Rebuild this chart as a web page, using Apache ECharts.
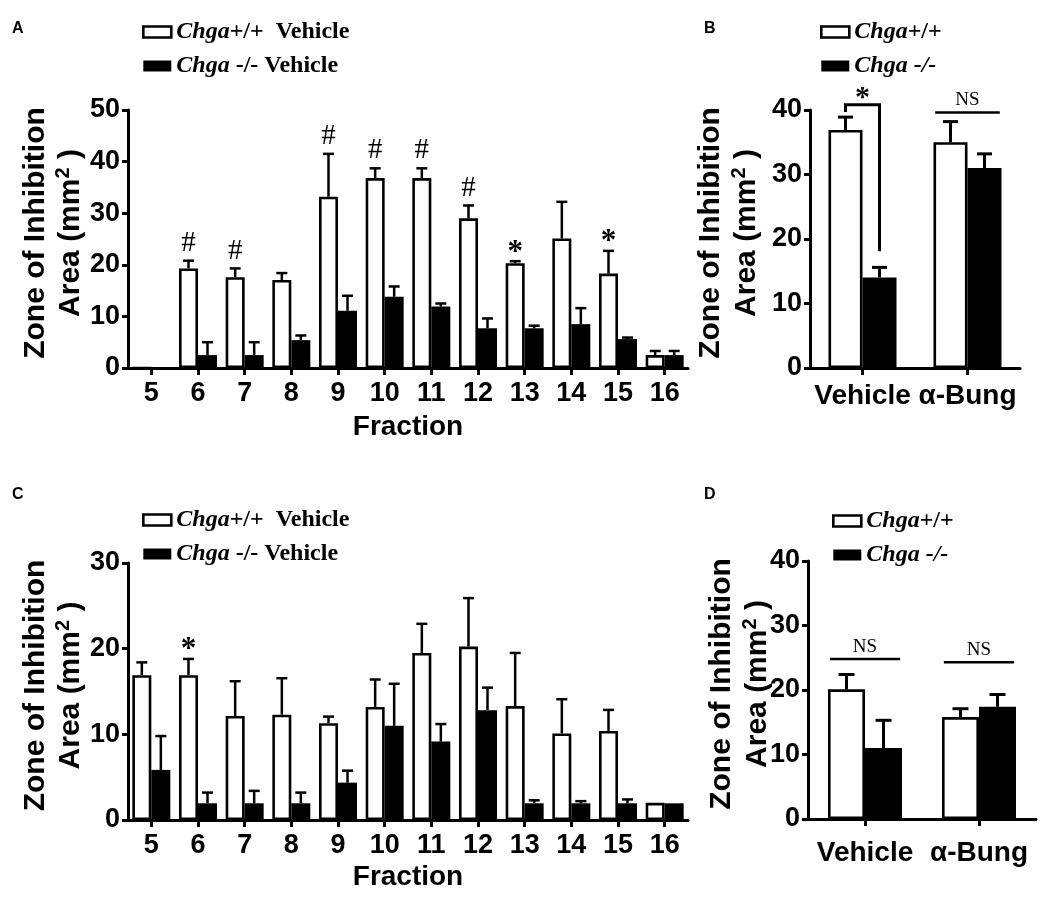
<!DOCTYPE html>
<html>
<head>
<meta charset="utf-8">
<script src="https://cdn.jsdelivr.net/npm/echarts@6/dist/echarts.min.js"></script>
<style>
html,body{margin:0;padding:0;background:#fff;}
#chart{width:1050px;height:903px;}
</style>
</head>
<body>
<div id="chart"></div>
<script>
// ---------------- data ----------------
const fractions = ['5','6','7','8','9','10','11','12','13','14','15','16'];
const treatments = ['Vehicle','\u03b1-Bung'];

// Panel A (fractions, Chga+/+ vs Chga-/-)
const aWtMean = [0, 19.3, 17.6, 17.05, 33.2, 36.8, 36.8, 29.0, 20.3, 25.1, 18.3, 2.5];
const aWtSem  = [0, 1.5, 1.7, 1.35, 8.3, 1.9, 1.9, 2.5, 0.4, 7.1, 4.4, 0.8];
const aKoMean = [0, 2.5, 2.5, 5.4, 11.1, 13.8, 11.9, 7.7, 7.7, 8.5, 5.6, 2.5];
const aKoSem  = [0, 2.5, 2.5, 0.9, 2.9, 2.0, 0.6, 1.9, 0.5, 3.1, 0.3, 0.8];
const aSig    = ['', '#', '#', '', '#', '#', '#', '#', '*', '', '*', ''];

// Panel B
const bWtMean = [36.9, 35.0];
const bWtSem  = [2.0, 3.2];
const bKoMean = [14.05, 31.0];
const bKoSem  = [1.55, 2.2];
const bBracket = [0, 40.8, 39.7, 18.1];   // category, bracket level, left leg end, right leg end
const bBracketText = '*';
const bNS = [[1, 39.6]];                 // category, line level

// Panel C
const cWtMean = [16.9, 16.9, 12.15, 12.3, 11.3, 13.2, 19.5, 20.25, 13.3, 10.1, 10.4, 2.0];
const cWtSem  = [1.5, 1.9, 4.05, 4.25, 0.77, 3.2, 3.4, 5.65, 6.2, 4.0, 2.45, 0];
const cKoMean = [5.85, 1.95, 1.95, 1.95, 4.36, 11.0, 9.15, 12.8, 1.95, 1.95, 1.95, 1.95];
const cKoSem  = [3.95, 1.25, 1.45, 1.25, 1.4, 4.9, 2.05, 2.65, 0.35, 0.25, 0.45, 0];
const cSig    = ['', '*', '', '', '', '', '', '', '', '', '', ''];

// Panel D
const dWtMean = [20.1, 15.8];
const dWtSem  = [2.3, 1.3];
const dKoMean = [11.0, 17.4];
const dKoSem  = [4.3, 1.9];
const dNS = [[0, 24.8], [1, 24.3]];

// y-axis tick settings
const aYMax = 50, bYMax = 40, cYMax = 30, dYMax = 40, yStep = 10;

// legend labels [italic part, rest]
const legAC = [['Chga', '+/+  Vehicle'], ['Chga', ' -/- Vehicle']];
const legBD = [['Chga', '+/+'], ['Chga', ' -/-']];
const panelLetters = ['A', 'B', 'C', 'D'];

// ---------------- helpers ----------------
const SANS = "'Liberation Sans', Arial, sans-serif";
const SERIF = "'Liberation Serif', 'Times New Roman', serif";
const nameAC = legAC.map(p => p[0] + p[1]);
const nameBD = legBD.map(p => p[0] + p[1]);

function xAxis(gi, cats, opt) {
  return Object.assign({
    type: 'category', gridIndex: gi, data: cats,
    axisLine: {lineStyle: {color: '#000', width: 3}},
    axisTick: {show: true, alignWithLabel: true, length: 7, lineStyle: {color: '#000', width: 3}},
    axisLabel: {color: '#000', fontFamily: SANS, fontWeight: 'bold', fontSize: 27, margin: 12, interval: 0},
    splitLine: {show: false}
  }, opt || {});
}
function yAxis(gi, max, gap, lh) {
  return {
    type: 'value', gridIndex: gi, min: 0, max: max, interval: yStep,
    axisLine: {show: true, lineStyle: {color: '#000', width: 3}},
    axisTick: {show: true, length: 6, lineStyle: {color: '#000', width: 3}},
    axisLabel: {color: '#000', fontFamily: SANS, fontWeight: 'bold', fontSize: 27, margin: 8},
    splitLine: {show: false},
    name: '{n|Zone of Inhibition}\n{n|Area (mm}{s|2}{n| )}',
    nameLocation: 'middle', nameRotate: 90, nameGap: gap, nameMoveOverlap: false,
    nameTextStyle: {
      padding: [0, 0, 0, 12],
      rich: {
        n: {fontFamily: SANS, fontWeight: 'bold', fontSize: 30, color: '#000', lineHeight: lh},
        s: {fontFamily: SANS, fontWeight: 'bold', fontSize: 20, color: '#000', lineHeight: lh, verticalAlign: 'top', padding: [0, 0, 12, 0]}
      }
    }
  };
}
function bars(gi, name, data, white, bw) {
  return {
    type: 'bar', name: name, xAxisIndex: gi, yAxisIndex: gi, data: data,
    barWidth: bw, barGap: '0%',
    itemStyle: white ? {color: '#fff', borderColor: '#000', borderWidth: 2.6}
                     : {color: '#000', borderColor: '#000', borderWidth: 0},
    emphasis: {disabled: true}, z: white ? 3 : 2
  };
}
function errBars(gi, mean, sem, side, bw, cap, lw) {
  return {
    type: 'custom', xAxisIndex: gi, yAxisIndex: gi, z: 4, silent: true,
    data: mean.map((m, i) => [i, m, m + sem[i]]),
    renderItem: function (params, api) {
      const i = api.value(0), m = api.value(1), e = api.value(2);
      if (!(e > m)) return {type: 'group', children: []};
      const p0 = api.coord([i, m]), p1 = api.coord([i, e]);
      const x = p0[0] + side * bw / 2;
      const st = {stroke: '#000', lineWidth: lw};
      return {type: 'group', children: [
        {type: 'line', shape: {x1: x, y1: p0[1], x2: x, y2: p1[1]}, style: st},
        {type: 'line', shape: {x1: x - cap / 2, y1: p1[1], x2: x + cap / 2, y2: p1[1]}, style: st}
      ]};
    }
  };
}
function sigMarks(gi, mean, sem, sig, side, bw) {
  return {
    type: 'custom', xAxisIndex: gi, yAxisIndex: gi, z: 5, silent: true,
    data: mean.map((m, i) => [i, m + sem[i]]),
    renderItem: function (params, api) {
      const i = api.value(0);
      const s = sig[i];
      if (!s) return {type: 'group', children: []};
      const p = api.coord([i, api.value(1)]);
      const isStar = s === '*';
      return {type: 'text', x: p[0] + side * bw / 2, y: p[1] - (isStar ? -7 : 3),
        style: {text: s, fill: '#000', align: 'center', verticalAlign: 'bottom',
          font: (isStar ? 'bold 31px ' : 'normal 29px ') + SERIF}};
    }
  };
}
function nsLines(gi, items, bw, lw) {
  return {
    type: 'custom', xAxisIndex: gi, yAxisIndex: gi, z: 5, silent: true,
    data: items,
    renderItem: function (params, api) {
      const p = api.coord([api.value(0), api.value(1)]);
      const half = bw * 0.95;
      return {type: 'group', children: [
        {type: 'line', shape: {x1: p[0] - half, y1: p[1], x2: p[0] + half, y2: p[1]}, style: {stroke: '#000', lineWidth: lw}},
        {type: 'text', x: p[0], y: p[1] - 3, style: {text: 'NS', fill: '#000', align: 'center', verticalAlign: 'bottom', font: 'normal 19px ' + SERIF}}
      ]};
    }
  };
}
function bracket(gi, b, txt, bw, lw) {
  return {
    type: 'custom', xAxisIndex: gi, yAxisIndex: gi, z: 5, silent: true,
    data: [b],
    renderItem: function (params, api) {
      const c = api.value(0);
      const lvl = api.coord([c, api.value(1)]);
      const lEnd = api.coord([c, api.value(2)]);
      const rEnd = api.coord([c, api.value(3)]);
      const xl = lvl[0] - bw / 2, xr = lvl[0] + bw / 2;
      return {type: 'group', children: [
        {type: 'polyline', shape: {points: [[xl, lEnd[1]], [xl, lvl[1]], [xr, lvl[1]], [xr, rEnd[1]]]},
          style: {stroke: '#000', lineWidth: lw, fill: null}},
        {type: 'text', x: lvl[0], y: lvl[1] + 8, style: {text: txt, fill: '#000', align: 'center', verticalAlign: 'bottom', font: 'bold 30px ' + SERIF}}
      ]};
    }
  };
}
function legend(names, parts, left, top, italicRest) {
  return {
    orient: 'vertical', left: left, top: top, padding: 0, itemWidth: 28, itemHeight: 11, itemGap: 10,
    selectedMode: false, icon: 'rect',
    data: [
      {name: names[0], itemStyle: {color: '#fff', borderColor: '#000', borderWidth: 2.6}},
      {name: names[1], itemStyle: {color: '#000', borderColor: '#000', borderWidth: 0}}
    ],
    formatter: function (n) {
      const k = names.indexOf(n);
      return '{i|' + parts[k][0] + '}{' + (italicRest && k === 1 ? 'i' : 'r') + '|' + parts[k][1] + '}';
    },
    textStyle: {
      rich: {
        i: {fontFamily: SERIF, fontStyle: 'italic', fontWeight: 'bold', fontSize: 24, color: '#000', lineHeight: 25},
        r: {fontFamily: SERIF, fontWeight: 'bold', fontSize: 24, color: '#000', lineHeight: 25}
      }
    }
  };
}

// ---------------- option ----------------
const bwAC = 19, bwB = 34, bwD = 37;
const option = {
  backgroundColor: '#fff',
  animation: false,
  grid: [
    {left: 128, top: 110, width: 560, height: 258},
    {left: 810, top: 110, width: 210, height: 258},
    {left: 128, top: 563, width: 560, height: 257},
    {left: 808, top: 561, width: 228, height: 258}
  ],
  xAxis: [
    xAxis(0, fractions, {name: 'Fraction', nameLocation: 'middle', nameGap: 45,
      nameTextStyle: {color: '#000', fontFamily: SANS, fontWeight: 'bold', fontSize: 28}}),
    xAxis(1, treatments, {axisLabel: {color: '#000', fontFamily: SANS, fontWeight: 'bold', fontSize: 28, margin: 14, interval: 0}}),
    xAxis(2, fractions, {name: 'Fraction', nameLocation: 'middle', nameGap: 43,
      nameTextStyle: {color: '#000', fontFamily: SANS, fontWeight: 'bold', fontSize: 28}}),
    xAxis(3, treatments, {axisLabel: {color: '#000', fontFamily: SANS, fontWeight: 'bold', fontSize: 28, margin: 20, interval: 0}})
  ],
  yAxis: [
    yAxis(0, aYMax, 40, 35),
    yAxis(1, bYMax, 45, 36),
    yAxis(2, cYMax, 40, 35),
    yAxis(3, dYMax, 32, 36)
  ],
  legend: [
    legend(nameAC, legAC, 142, 20, false),
    legend(nameBD, legBD, 820, 20, true),
    legend(nameAC, legAC, 142, 508, false),
    legend(nameBD, legBD, 832, 509, true)
  ],
  graphic: [
    {type: 'text', left: 12, top: 21, style: {text: panelLetters[0], font: 'bold 16px ' + SANS, fill: '#000'}},
    {type: 'text', left: 704, top: 21, style: {text: panelLetters[1], font: 'bold 16px ' + SANS, fill: '#000'}},
    {type: 'text', left: 12, top: 487, style: {text: panelLetters[2], font: 'bold 16px ' + SANS, fill: '#000'}},
    {type: 'text', left: 704, top: 487, style: {text: panelLetters[3], font: 'bold 16px ' + SANS, fill: '#000'}}
  ],
  series: [
    // A
    bars(0, nameAC[0], aWtMean, true, bwAC),
    bars(0, nameAC[1], aKoMean, false, bwAC),
    errBars(0, aWtMean, aWtSem, -1, bwAC, 11, 2.5),
    errBars(0, aKoMean, aKoSem, 1, bwAC, 11, 2.5),
    sigMarks(0, aWtMean, aWtSem, aSig, -1, bwAC),
    // B
    bars(1, nameBD[0], bWtMean, true, bwB),
    bars(1, nameBD[1], bKoMean, false, bwB),
    errBars(1, bWtMean, bWtSem, -1, bwB, 15, 3),
    errBars(1, bKoMean, bKoSem, 1, bwB, 15, 3),
    bracket(1, bBracket, bBracketText, bwB, 3),
    nsLines(1, bNS, bwB, 2.5),
    // C
    bars(2, nameAC[0], cWtMean, true, bwAC),
    bars(2, nameAC[1], cKoMean, false, bwAC),
    errBars(2, cWtMean, cWtSem, -1, bwAC, 11, 2.5),
    errBars(2, cKoMean, cKoSem, 1, bwAC, 11, 2.5),
    sigMarks(2, cWtMean, cWtSem, cSig, -1, bwAC),
    // D
    bars(3, nameBD[0], dWtMean, true, bwD),
    bars(3, nameBD[1], dKoMean, false, bwD),
    errBars(3, dWtMean, dWtSem, -1, bwD, 16, 3),
    errBars(3, dKoMean, dKoSem, 1, bwD, 16, 3),
    nsLines(3, dNS, bwD, 2.5)
  ]
};
const chart = echarts.init(document.getElementById('chart'), null, {renderer: 'canvas'});
chart.setOption(option);
</script>
</body>
</html>
